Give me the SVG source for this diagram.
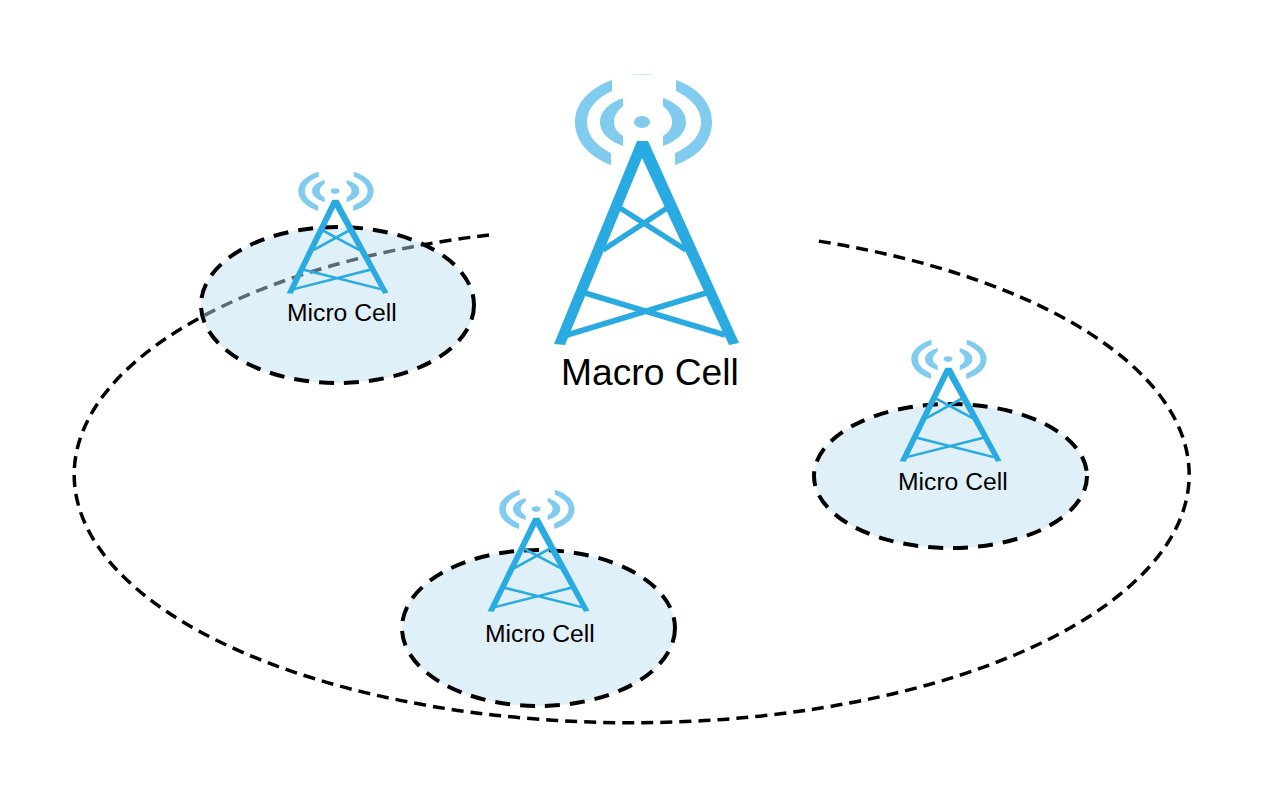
<svg xmlns="http://www.w3.org/2000/svg" width="1266" height="799" viewBox="0 0 1266 799">
<style>
.big{fill:none;stroke:#000;stroke-width:3.500;stroke-dasharray:12 7.012}
.cellfill{fill:#bee0f2;fill-opacity:.475;stroke:none}
.celledge{fill:none;stroke:#000;stroke-width:4;stroke-dasharray:15 10}
.wave{fill:#80cbee}
.leg{fill:#29abe2;stroke:none}
.bar{stroke:#29abe2;stroke-width:5.500;fill:none}
.lbl{font-family:"Liberation Sans",Arial,sans-serif;fill:#000}
</style>
<defs>
<g id="tower">
<path class="wave" d="M612 80C590 88 575 103 575 122C575 142 590 157 611 165V153C597 146 587 136 587 122C587 108 597 98 612 91Z"/>
<path class="wave" d="M623 98C609 103 600 111 600 122C600 133 609 141 623 146V136C617 132 614 128 614 122C614 116 617 111 623 106Z"/>
<path class="wave" d="M676 80C698 88 712 103 712 122C712 142 698 157 675 165V153C690 146 701 136 701 122C701 108 690 98 676 91Z"/>
<path class="wave" d="M663 98C677 103 686 111 686 122C686 133 677 141 663 146V136C669 132 672 128 672 122C672 116 669 111 663 106Z"/>
<ellipse class="wave" cx="642" cy="122" rx="8" ry="6"/>
<path class="bar" d="M620 208L686 250M667 208L603 250M585 293L725 335M706 293L567 335"/>
<path class="leg" d="M637 141H648L739 343L729 345L642 158L565 345L554 344Z"/>
</g>
</defs>
<g id="connectors">
<path id="macro-boundary" class="big" d="M489 235A557.500 248 0 1 0 818 241"/>
</g>
<g id="micro-cell-1">
<ellipse class="cellfill" cx="337.500" cy="305" rx="136.500" ry="78"/>
<ellipse class="celledge" cx="337.500" cy="305" rx="136.500" ry="78"/>
<use href="#tower" transform="translate(-18 135) scale(.55 .46)"/>
<text class="lbl" x="287" y="321" font-size="24.700">Micro Cell</text>
</g>
<g id="micro-cell-2">
<ellipse class="cellfill" cx="538.500" cy="628" rx="136.500" ry="78"/>
<ellipse class="celledge" cx="538.500" cy="628" rx="136.500" ry="78"/>
<use href="#tower" transform="translate(183 453) scale(.55 .46)"/>
<text class="lbl" x="485" y="642" font-size="24.700">Micro Cell</text>
</g>
<g id="micro-cell-3">
<ellipse class="cellfill" cx="950.500" cy="476" rx="136.500" ry="72"/>
<ellipse class="celledge" cx="950.500" cy="476" rx="136.500" ry="72"/>
<use href="#tower" transform="translate(595 303) scale(.55 .46)"/>
<text class="lbl" x="898" y="490" font-size="24.700">Micro Cell</text>
</g>
<g id="macro-cell">
<use href="#tower"/>
<path class="wave" opacity=".5" d="M630 75Q642 73 654 75Z"/>
<text class="lbl" x="561" y="385" font-size="37.200">Macro Cell</text>
</g>
</svg>
